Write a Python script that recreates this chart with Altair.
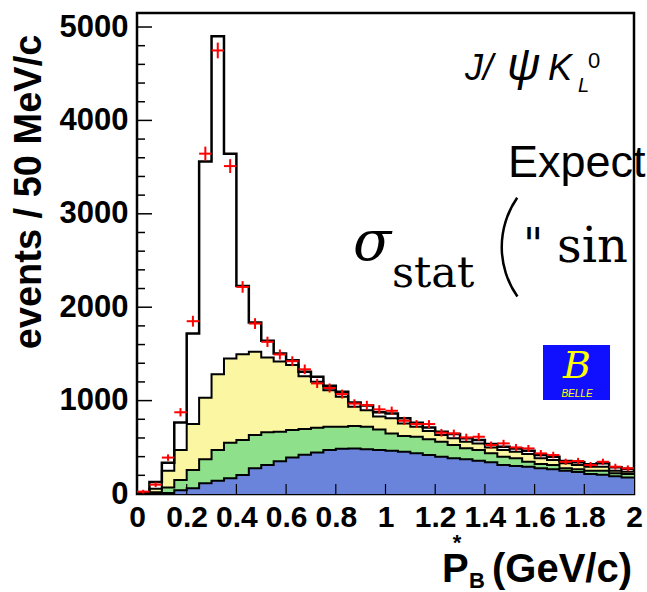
import altair as alt
import pandas as pd

# ---------------- data ----------------
bin_lo = [0.00, 0.05, 0.10, 0.15, 0.20, 0.25, 0.30, 0.35, 0.40, 0.45,
          0.50, 0.55, 0.60, 0.65, 0.70, 0.75, 0.80, 0.85, 0.90, 0.95,
          1.00, 1.05, 1.10, 1.15, 1.20, 1.25, 1.30, 1.35, 1.40, 1.45,
          1.50, 1.55, 1.60, 1.65, 1.70, 1.75, 1.80, 1.85, 1.90, 1.95]

# total MC (black outline)
total = [15, 128, 335, 765, 1718, 3561, 4902, 3644, 2228, 1836,
         1640, 1504, 1433, 1308, 1255, 1160, 1094, 980, 948, 875,
         863, 810, 763, 713, 666, 642, 596, 578, 535, 506,
         488, 463, 417, 399, 353, 339, 318, 328, 286, 271]

# data points (red crosses)
data_pts = [25, 100, 390, 875, 1850, 3644, 4749, 3511, 2217, 1825,
            1629, 1494, 1422, 1335, 1184, 1135, 1070, 968, 952, 906,
            891, 784, 749, 749, 656, 649, 606, 613, 524, 542,
            499, 488, 435, 417, 345, 353, 310, 345, 292, 275]

# cumulative top of yellow component
yellow_top = [5, 55, 250, 470, 749, 1030, 1283, 1451, 1497, 1522,
              1462, 1420, 1380, 1262, 1201, 1112, 1041, 934, 898, 830,
              810, 756, 720, 674, 631, 596, 559, 542, 499, 471,
              452, 428, 382, 364, 328, 310, 292, 292, 249, 238]

# cumulative top of green component
green_top = [2, 20, 70, 150, 257, 371, 471, 549, 578, 631,
             660, 666, 684, 695, 709, 720, 720, 727, 720, 690,
             649, 620, 613, 585, 559, 524, 489, 471, 435, 399,
             382, 345, 321, 310, 275, 264, 249, 249, 221, 214]

# blue component
blue_top = [0, 3, 10, 40, 61, 114, 143, 168, 203, 275,
            310, 350, 390, 420, 445, 470, 485, 488, 480, 471,
            463, 452, 435, 417, 399, 382, 371, 356, 339, 310,
            299, 292, 275, 264, 249, 235, 215, 205, 190, 178]

x_labels = [0, 0.2, 0.4, 0.6, 0.8, 1, 1.2, 1.4, 1.6, 1.8, 2]
y_labels = [0, 1000, 2000, 3000, 4000, 5000]

# ---------------- tables ----------------
hist = pd.DataFrame({
    "x": bin_lo + [2.0],
    "total": total + [total[-1]],
    "yellow": yellow_top + [yellow_top[-1]],
    "green": green_top + [green_top[-1]],
    "blue": blue_top + [blue_top[-1]],
})
pts = pd.DataFrame({"lo": bin_lo, "n": data_pts})

W, H = 497, 481
FONT = "Liberation Sans"
xs = alt.Scale(domain=[0, 2], nice=False, zero=False)
ys = alt.Scale(domain=[0, 5150], nice=False, zero=False)

x_axis = alt.Axis(values=x_labels, format="~g", labelFont=FONT, labelFontWeight="bold",
                  labelFontSize=30, labelColor="black", labelPadding=8, ticks=False,
                  domain=False, grid=False, labelFlush=False, labelOverlap=False,
                  labelBound=False, title=None)
y_axis = alt.Axis(values=y_labels, format="d", labelFont=FONT, labelFontWeight="bold",
                  labelFontSize=31, labelColor="black", labelPadding=9, ticks=False,
                  domain=False, grid=False, labelOverlap=False, title=None)


def X(field):
    return alt.X(field, type="quantitative", scale=xs, axis=x_axis)


def Y(field):
    return alt.Y(field, type="quantitative", scale=ys, axis=y_axis)


def area(field, color):
    return alt.Chart(hist).mark_area(interpolate="step-after", color=color, opacity=1).encode(
        x=X("x"), y=Y(field))


def outline(field, width):
    return alt.Chart(hist).mark_line(interpolate="step-after", color="black",
                                     strokeWidth=width).encode(x=X("x"), y=Y(field))


layers = [
    area("yellow", "#fbf6a2"),
    area("green", "#8fe08a"),
    area("blue", "#6a84dc"),
    outline("yellow", 2),
    outline("green", 2),
    outline("blue", 2),
    outline("total", 2.5),
]

# red data crosses
err_base = alt.Chart(pts).transform_calculate(
    hi="datum.lo + 0.05", c="datum.lo + 0.025",
    ylo="datum.n - sqrt(datum.n) - 15", yhi="datum.n + sqrt(datum.n) + 15")
layers.append(err_base.mark_rule(color="#ff0000", strokeWidth=2).encode(
    x=X("lo"), x2="hi:Q", y=Y("n")))
layers.append(err_base.mark_rule(color="#ff0000", strokeWidth=2).encode(
    x=X("c"), y=Y("ylo"), y2="yhi:Q"))

# inward ticks
y_major = pd.DataFrame({"v": [1000, 2000, 3000, 4000, 5000]})
y_minor = pd.DataFrame({"v": [v for v in range(200, 5001, 200) if v % 1000]})
x_major = pd.DataFrame({"v": [0.2, 0.4, 0.6, 0.8, 1.0, 1.2, 1.4, 1.6, 1.8]})
for df, ln in ((y_major, 15), (y_minor, 8)):
    layers.append(alt.Chart(df).mark_rule(color="black", strokeWidth=1.5).encode(
        y=Y("v"), x=alt.value(0), x2=alt.value(ln)))
layers.append(alt.Chart(x_major).mark_rule(color="black", strokeWidth=1.2).encode(
    x=X("v"), y=alt.value(H), y2=alt.value(H - 10)))

one = alt.Data(values=[{"a": 1}])


def txt(text, x, y, size, font=FONT, weight="normal", style="normal", color="black",
        align="left", baseline="alphabetic", angle=0, clip=False):
    return alt.Chart(one).mark_text(
        text=text, font=font, fontSize=size, fontWeight=weight, fontStyle=style,
        color=color, align=align, baseline=baseline, angle=angle, clip=clip
    ).encode(x=alt.value(x), y=alt.value(y))


# J/psi K_L^0
layers += [
    txt("J/", 328, 67, 36, style="italic"),
    txt("ψ", 370, 67, 46, style="italic"),
    txt("K", 411, 67, 36, style="italic"),
    txt("L", 441, 79, 20, style="italic"),
    txt("0", 451, 55, 22),
]
# slide overlay text
layers += [
    txt("Expect", 371, 164, 45),
    txt("σ", 216, 247, 56, font="DejaVu Serif", style="italic"),
    txt("stat", 255, 274, 43, font="DejaVu Serif"),
    txt("\"", 386, 247, 44, font="DejaVu Serif"),
    txt("sin", 420, 249, 48, font="DejaVu Serif", clip=True),
]
# big thin left parenthesis drawn as a circular arc
layers.append(alt.Chart(one).mark_arc(
    theta=4.10, theta2=5.32, innerRadius=85, outerRadius=87.5, color="black"
).encode(x=alt.value(451), y=alt.value(234)))

# Belle logo
layers.append(alt.Chart(one).mark_rect(color="#1010ff").encode(
    x=alt.value(406), x2=alt.value(473), y=alt.value(332), y2=alt.value(387)))
layers += [
    txt("B", 440, 365, 38, font="DejaVu Serif", style="italic", color="#ffff00", align="center"),
    txt("BELLE", 440, 384, 10, style="italic", color="#ffff00", align="center"),
]
# axis titles
layers += [
    txt("events / 50 MeV/c", -107, 179, 38, weight="bold", align="center",
        baseline="middle", angle=270),
    txt("P", 305, 569, 40, weight="bold"),
    txt("*", 320, 537, 22, weight="bold", align="center"),
    txt("B", 332, 575, 22, weight="bold"),
    txt("(GeV/c)", 355, 569, 40, weight="bold"),
]

chart = alt.layer(*layers).properties(
    width=W, height=H,
    padding={"left": 137, "top": 13, "right": 13, "bottom": 98},
    autosize="none",
    background="white",
).configure_view(stroke="black", strokeWidth=2.5)

chart.save("out.html", embed_options={"renderer": "svg", "actions": False})
